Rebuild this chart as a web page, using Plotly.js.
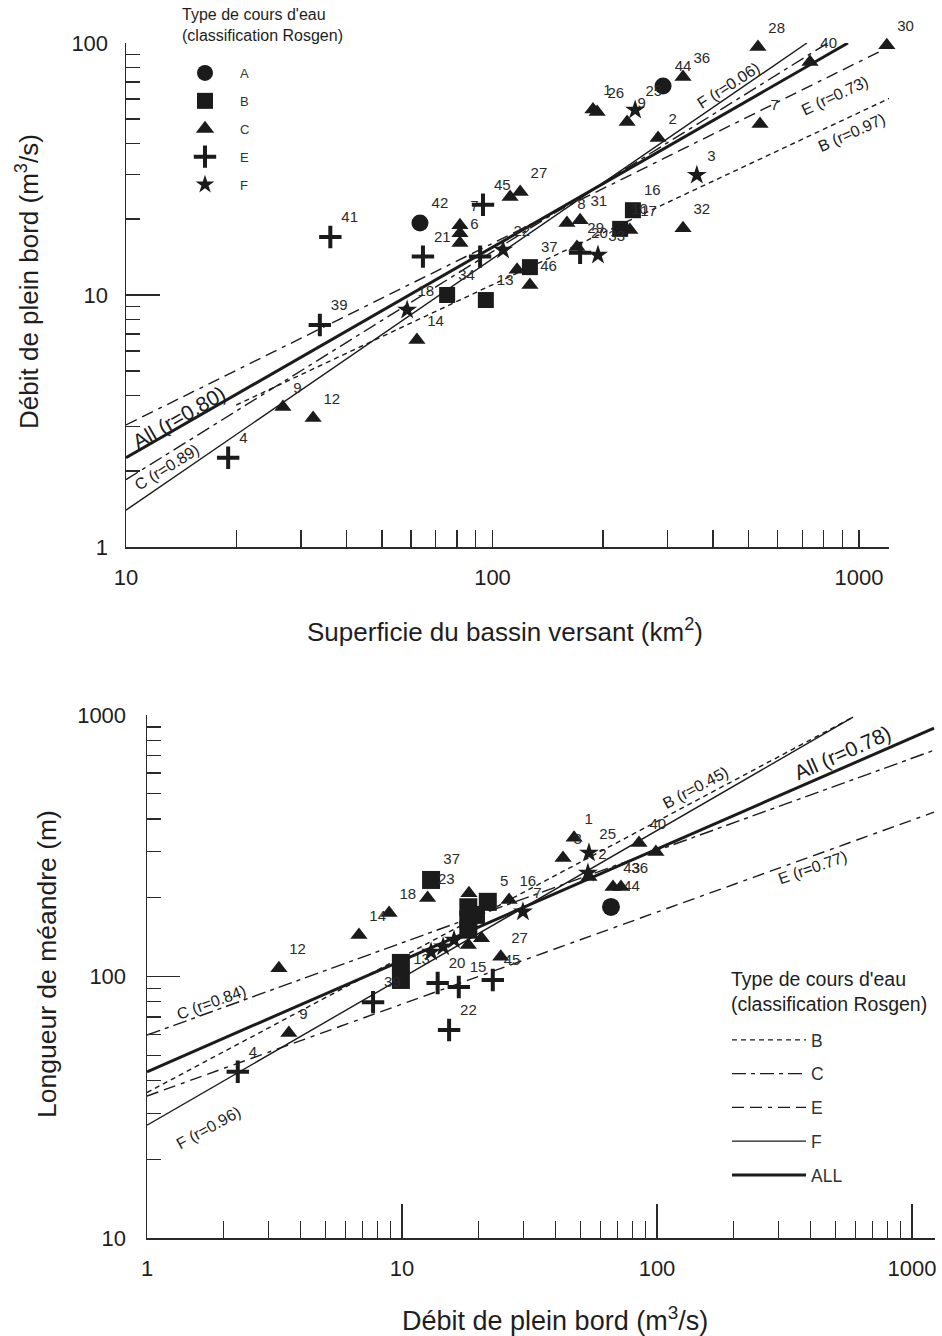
<!DOCTYPE html>
<html><head><meta charset="utf-8">
<script src="https://cdn.plot.ly/plotly-3.0.1.min.js"></script>
<style>html,body{margin:0;padding:0;background:#fff}</style>
</head><body><div id="chart" style="width:942px;height:1336px"></div>
<script>
// ===== Top chart: bankfull discharge (m3/s) vs drainage area (km2) =====
const topA_x = [63.4, 292];
const topA_y = [19.3, 67.5];
const topA_lab = ['42', '44'];

const topB_x = [75.2, 95.9, 126.5, 241.6, 223];
const topB_y = [10.0, 9.55, 12.9, 21.7, 18.3];
const topB_lab = ['34', '13', '37', '16', '10'];

const topC_x = [530, 1191, 331, 193, 188, 233, 283, 735, 537, 331, 237, 111.7, 119, 81.5, 81.5, 81.5, 62.2, 26.8, 32.4, 126.5, 116.7, 170, 159.6, 173.4];
const topC_y = [96.4, 98, 73.3, 53.2, 54.5, 48.6, 42, 84, 47.7, 18.4, 18.1, 24.5, 25.6, 18.9, 17.6, 16.1, 6.63, 3.59, 3.25, 10.96, 12.6, 15.5, 19.3, 19.8];
const topC_lab = ['28','30','36','26','1','9','2','40','7','32','17','','27','7','','6','14','9','12','46','','29','8','31'];

const topE_x = [36.1, 33.8, 19.0, 64.6, 94.2, 92.5, 173.4];
const topE_y = [17.0, 7.6, 2.26, 14.2, 22.8, 14.2, 14.7];
const topE_lab = ['41','39','4','21','45','','20'];

const topF_x = [245, 361, 106.9, 194, 58.5];
const topF_y = [54.2, 29.9, 15.1, 14.4, 8.72];
const topF_lab = ['25','3','22','33','18'];

// regression lines (end points) top chart
const topAll_x = [10, 933];  const topAll_y = [2.26, 100];
const topLF_x  = [10, 721];  const topLF_y  = [1.40, 100];
const topLC_x  = [10, 822];  const topLC_y  = [1.85, 100];
const topLE_x  = [10, 1161]; const topLE_y  = [3.05, 93.8];
const topLB_x  = [20, 1216]; const topLB_y  = [3.66, 60.5];

// ===== Bottom chart: meander length (m) vs bankfull discharge (m3/s) =====
const botA_x = [66];
const botA_y = [184.6];
const botA_lab = ['44'];

const botB_x = [13.0, 21.7, 18.2, 18.2, 18.2, 19.5, 9.9, 9.9];
const botB_y = [234, 193, 184, 165, 151, 172, 112.7, 97];
const botB_lab = ['37','5','','','','','','13'];

const botC_x = [47.3, 42.8, 85, 99, 67.2, 72.2, 12.6, 8.9, 6.78, 3.29, 3.6, 18.3, 26.3, 24.4, 18.2, 54.1, 20.5];
const botC_y = [339, 284, 324, 299, 220, 220, 199.5, 175, 144, 107.6, 60.8, 208, 196, 118.9, 132, 240, 140];
const botC_lab = ['1','3','40','','43','36','23','18','14','12','9','','16','27','','',''];

const botE_x = [2.27, 7.7, 13.8, 16.7, 22.7, 15.3];
const botE_y = [43.2, 79.8, 94.4, 91.2, 97, 62.4];
const botE_lab = ['4','39','20','15','45','22'];

const botF_x = [54.1, 29.8, 13.0, 14.5, 16.0, 53.6];
const botF_y = [297, 177, 124, 130, 138, 249];
const botF_lab = ['25','7','','','','2'];

const botAll_x = [1, 1220]; const botAll_y = [43.2, 891];
const botLB_x  = [1, 587];  const botLB_y  = [36, 981];
const botLC_x  = [1, 1220]; const botLC_y  = [59.7, 733];
const botLE_x  = [1, 1220]; const botLE_y  = [34.9, 425];
const botLF_x  = [1, 587];  const botLF_y  = [27, 981];

// tick labels
const topXtickvals = [10,20,30,40,50,60,70,80,90,100,200,300,400,500,600,700,800,900,1000];
const topXticktext = ['10','','','','','','','','','100','','','','','','','','','1000'];
const topYmajor = [1,10,100];
const topYminor = [2,3,4,5,6,7,8,9,20,30,40,50,60,70,80,90];
const botXmajor = [1,10,100,1000];
const botXminor = [2,3,4,5,6,7,8,9,20,30,40,50,60,70,80,90,200,300,400,500,600,700,800,900];
const botYmajor = [10,100,1000];
const botYminor = [20,30,40,50,60,70,80,90,200,300,400,500,600,700,800,900];

const legendTypes = ['A','B','C','E','F'];
const legendTitle = "Type de cours d'eau<br>(classification Rosgen)";
const topXTitle = 'Superficie du bassin versant (km<sup>2</sup>)';
const topYTitle = 'Débit de plein bord (m<sup>3</sup>/s)';
const botXTitle = 'Débit de plein bord (m<sup>3</sup>/s)';
const botYTitle = 'Longueur de méandre (m)';

// ===== build =====
const INK = '#1b1b1b';
const FONT = 'Liberation Sans, Arial, Helvetica, sans-serif';
const symbols = {A:'circle', B:'square', C:'triangle-up', E:'cross-thin', F:'star'};
const sizes = {A:17, B:16, C:15, E:16, F:15};

function marker(t, sz) {
  const m = {symbol: symbols[t], size: sz || sizes[t], color: INK};
  if (t === 'E') m.line = {color: INK, width: 4};
  else m.line = {color: INK, width: 0};
  return m;
}
function pts(x, y, lab, t, xa, ya, sz) {
  return {type:'scatter', mode:'markers+text', x:x, y:y, text:lab, textposition:'top right',
    textfont:{family:FONT, size:15, color:'#2a2a2a'}, marker:marker(t, sz),
    xaxis:xa, yaxis:ya, showlegend:false, cliponaxis:false, hoverinfo:'skip'};
}
function line(x, y, dash, w, xa, ya, name, showleg) {
  return {type:'scatter', mode:'lines', x:x, y:y, line:{color:INK, width:w, dash:dash},
    xaxis:xa, yaxis:ya, name:name, showlegend:!!showleg, legend:'legend2', legendgroup:'L'+name,
    cliponaxis:false, hoverinfo:'skip'};
}
const DASH = {B:'5px,4px', C:'14px,5px,4px,5px', E:'12px,6px,12px,6px,4px,6px', F:'solid', ALL:'solid'};
const WID = {B:1.4, C:1.4, E:1.4, F:1.4, ALL:3};

const data = [
  line(topAll_x, topAll_y, DASH.ALL, WID.ALL, 'x', 'y', 'tAll'),
  line(topLF_x, topLF_y, DASH.F, WID.F, 'x', 'y', 'tF'),
  line(topLC_x, topLC_y, DASH.C, WID.C, 'x', 'y', 'tC'),
  line(topLE_x, topLE_y, DASH.E, WID.E, 'x', 'y', 'tE'),
  line(topLB_x, topLB_y, DASH.B, WID.B, 'x', 'y', 'tB'),
  pts(topA_x, topA_y, topA_lab, 'A', 'x', 'y'),
  pts(topB_x, topB_y, topB_lab, 'B', 'x', 'y'),
  pts(topC_x, topC_y, topC_lab, 'C', 'x', 'y'),
  pts(topE_x, topE_y, topE_lab, 'E', 'x', 'y'),
  pts(topF_x, topF_y, topF_lab, 'F', 'x', 'y'),

  line(botLB_x, botLB_y, DASH.B, WID.B, 'x2', 'y2', 'B', true),
  line(botLC_x, botLC_y, DASH.C, WID.C, 'x2', 'y2', 'C', true),
  line(botLE_x, botLE_y, DASH.E, WID.E, 'x2', 'y2', 'E', true),
  line(botLF_x, botLF_y, DASH.F, WID.F, 'x2', 'y2', 'F', true),
  line(botAll_x, botAll_y, DASH.ALL, WID.ALL, 'x2', 'y2', 'ALL', true),
  pts(botA_x, botA_y, botA_lab, 'A', 'x2', 'y2', 18),
  pts(botB_x, botB_y, botB_lab, 'B', 'x2', 'y2', 18),
  pts(botC_x, botC_y, botC_lab, 'C', 'x2', 'y2', 15),
  pts(botE_x, botE_y, botE_lab, 'E', 'x2', 'y2', 16),
  pts(botF_x, botF_y, botF_lab, 'F', 'x2', 'y2', 15)
];
// legend-only entries for the symbol legend (top chart)
legendTypes.forEach(function(t, i){
  data.push({type:'scatter', mode:'markers', x:[null], y:[null], name:t, marker:marker(t, t==='F'?14:16),
    xaxis:'x', yaxis:'y', legend:'legend', legendgroup:'g'+i, showlegend:true, hoverinfo:'skip'});
});

const axBase = {type:'log', showgrid:false, zeroline:false, showline:true, linecolor:'#2a2a2a', linewidth:1.5,
  ticks:'inside', tickcolor:'#2a2a2a', tickwidth:1.4, tickfont:{family:FONT, size:22, color:'#1e1e1e'},
  tickmode:'array', fixedrange:true};

function ax(extra){ return Object.assign({}, axBase, extra); }
function lg(v){ return Math.log10(v); }
function px(x){ return x/942; }
function py(y){ return 1 - y/1336; }
const TCOL = '#1e1e1e';

const layout = {
  width:942, height:1336, margin:{l:0, r:0, t:0, b:0},
  paper_bgcolor:'#ffffff', plot_bgcolor:'rgba(0,0,0,0)',
  font:{family:FONT, color:INK},
  xaxis: ax({domain:[126/942, 889/942], range:[1, 1 + 763/366.5], anchor:'y',
    tickvals:topXtickvals, ticktext:topXticktext, ticklen:17, ticklabelstandoff:10}),
  yaxis: ax({domain:[1-547/1336, 1-43/1336], range:[0, 2], anchor:'x',
    tickvals:topYmajor, ticktext:['1','10','100'], ticklen:34, ticklabelstandoff:12,
    minor:{ticks:'inside', tickmode:'array', tickvals:topYminor, ticklen:14, tickwidth:1.3, tickcolor:'#2a2a2a', showgrid:false}}),
  xaxis2: ax({domain:[147/942, 935/942], range:[0, 788/255], anchor:'y2',
    tickvals:botXmajor, ticktext:['1','10','100','1000'], ticklen:34, ticklabelstandoff:10,
    minor:{ticks:'inside', tickmode:'array', tickvals:botXminor, ticklen:17, tickwidth:1.3, tickcolor:'#2a2a2a', showgrid:false}}),
  yaxis2: ax({domain:[1-1238/1336, 1-715/1336], range:[1, 3], anchor:'x2',
    tickvals:botYmajor, ticktext:['10','100','1000'], ticklen:33, ticklabelstandoff:15,
    minor:{ticks:'inside', tickmode:'array', tickvals:botYminor, ticklen:14, tickwidth:1.3, tickcolor:'#2a2a2a', showgrid:false}}),
  legend:{x:170/942, y:1-58/1336, xanchor:'left', yanchor:'top', bgcolor:'rgba(0,0,0,0)',
    font:{family:FONT, size:13, color:'#333'}, tracegroupgap:8, itemwidth:60, traceorder:'grouped'},
  legend2:{x:727/942, y:1-1022/1336, xanchor:'left', yanchor:'top', bgcolor:'rgba(0,0,0,0)',
    font:{family:FONT, size:17.5, color:'#333'}, tracegroupgap:8, itemwidth:74, traceorder:'grouped'},
  annotations:[
    // axis titles
    {xref:'paper', yref:'paper', x:px(505), y:py(630), xanchor:'center', yanchor:'middle', showarrow:false,
      text:topXTitle, font:{family:FONT, size:26, color:TCOL}},
    {xref:'paper', yref:'paper', x:px(28), y:py(282), xanchor:'center', yanchor:'middle', showarrow:false, textangle:-90,
      text:topYTitle, font:{family:FONT, size:26, color:TCOL}},
    {xref:'paper', yref:'paper', x:px(555), y:py(1319), xanchor:'center', yanchor:'middle', showarrow:false,
      text:botXTitle, font:{family:FONT, size:27, color:TCOL}},
    {xref:'paper', yref:'paper', x:px(47), y:py(964), xanchor:'center', yanchor:'middle', showarrow:false, textangle:-90,
      text:botYTitle, font:{family:FONT, size:26.5, color:TCOL}},
    // legend titles
    {xref:'paper', yref:'paper', x:px(180), y:py(4), xanchor:'left', yanchor:'top', align:'left', showarrow:false,
      text:legendTitle, font:{family:FONT, size:16, color:TCOL}},
    {xref:'paper', yref:'paper', x:px(729), y:py(966), xanchor:'left', yanchor:'top', align:'left', showarrow:false,
      text:legendTitle, font:{family:FONT, size:19.5, color:TCOL}},
    // regression labels
    {xref:'x', yref:'y', x:lg(13.9), y:lg(3.28), text:'All (r=0.80)', textangle:-30, showarrow:false, font:{family:FONT, size:21, color:INK}},
    {xref:'x', yref:'y', x:lg(12.9), y:lg(2.06), text:'C (r=0.89)', textangle:-32, showarrow:false, font:{family:FONT, size:16, color:INK}},
    {xref:'x', yref:'y', x:lg(440), y:lg(68), text:'F (r=0.06)', textangle:-33, showarrow:false, font:{family:FONT, size:16, color:INK}},
    {xref:'x', yref:'y', x:lg(861), y:lg(62), text:'E (r=0.73)', textangle:-25, showarrow:false, font:{family:FONT, size:16, color:INK}},
    {xref:'x', yref:'y', x:lg(957), y:lg(44), text:'B (r=0.97)', textangle:-24, showarrow:false, font:{family:FONT, size:16, color:INK}},
    {xref:'x2', yref:'y2', x:lg(536), y:lg(716), text:'All (r=0.78)', textangle:-24, showarrow:false, font:{family:FONT, size:21, color:INK}},
    {xref:'x2', yref:'y2', x:lg(142), y:lg(526), text:'B (r=0.45)', textangle:-28, showarrow:false, font:{family:FONT, size:16, color:INK}},
    {xref:'x2', yref:'y2', x:lg(409), y:lg(260), text:'E (r=0.77)', textangle:-19, showarrow:false, font:{family:FONT, size:16, color:INK}},
    {xref:'x2', yref:'y2', x:lg(1.78), y:lg(79.8), text:'C (r=0.84)', textangle:-20, showarrow:false, font:{family:FONT, size:16, color:INK}},
    {xref:'x2', yref:'y2', x:lg(1.75), y:lg(26.5), text:'F (r=0.96)', textangle:-29, showarrow:false, font:{family:FONT, size:16, color:INK}}
  ]
};

Plotly.newPlot('chart', data, layout, {displayModeBar:false, staticPlot:true});
</script></body></html>
